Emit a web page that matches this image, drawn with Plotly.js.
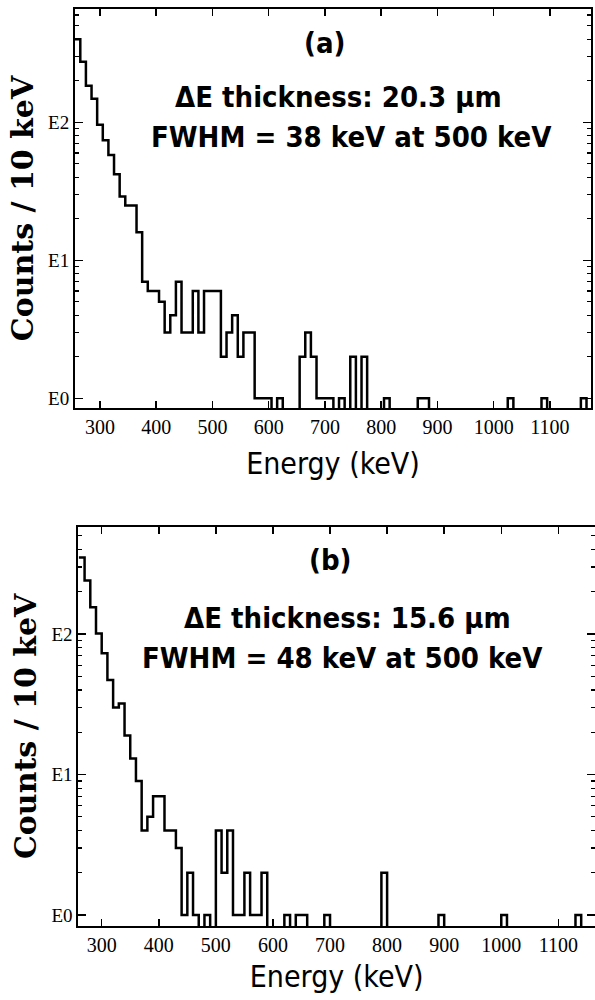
<!DOCTYPE html>
<html><head><meta charset="utf-8">
<script src="https://cdn.plot.ly/plotly-3.0.1.min.js"></script>
<style>html,body{margin:0;padding:0;background:#fff}#chart{width:595px;height:1000px}</style>
</head><body><div id="chart"></div>
<script>
const binWidth = 10;

// Panel (a): bin centres (keV) and counts per 10 keV
const binsA = [260,270,280,290,300,310,320,330,340,350,360,370,380,390,400,410,420,430,440,450,
  460,470,480,490,500,510,520,530,540,550,560,570,580,590,600,610,620,630,640,650,
  660,670,680,690,700,710,720,730,740,750,760,770,780,790,800,810,820,830,840,850,
  860,870,880,890,900,910,920,930,940,950,960,970,980,990,1000,1010,1020,1030,1040,1050,
  1060,1070,1080,1090,1100,1110,1120,1130,1140,1150,1160,1170];
const countsA = [400,275,184,148,96,74,58,42,29,25,25,16,7,6,6,5,3,4,7,3,
  3,6,3,6,6,6,2,3,4,2,3,3,1,1,1,0,1,0,0,0,
  2,3,2,1,1,1,0,1,0,2,0,2,0,0,0,1,0,0,0,0,
  0,1,1,0,0,0,0,0,0,0,0,0,0,0,0,0,0,1,0,0,
  0,0,0,1,0,0,0,0,0,0,1,0];

// Panel (b)
const binsB = [265,275,285,295,305,315,325,335,345,355,365,375,385,395,405,415,425,435,445,455,
  465,475,485,495,505,515,525,535,545,555,565,575,585,595,605,615,625,635,645,655,
  665,675,685,695,705,715,725,735,745,755,765,775,785,795,805,815,825,835,845,855,
  865,875,885,895,905,915,925,935,945,955,965,975,985,995,1005,1015,1025,1035,1045,1055,
  1065,1075,1085,1095,1105,1115,1125,1135,1145,1155,1165];
const countsB = [350,240,155,101,73,47,30,32,19,13,9,4,5,7,7,4,4,3,1,2,
  1,0,1,0,4,2,4,1,1,2,1,1,2,0,0,0,1,0,1,1,
  0,0,0,1,0,0,0,0,0,0,0,0,0,2,0,0,0,0,0,0,
  0,0,0,1,0,0,0,0,0,0,0,0,0,0,1,0,0,0,0,0,
  0,0,0,0,0,0,0,1,0,0,0];

const xTickVals = [300,400,500,600,700,800,900,1000,1100];
const yTickVals = [1,10,100];
const yTickText = ['E0','E1','E2'];
const panelLabels = ['(a)','(b)'];
const thicknessText = ['\u0394E thickness: 20.3 \u03bcm','\u0394E thickness: 15.6 \u03bcm'];
const fwhmText = ['FWHM = 38 keV at 500 keV','FWHM = 48 keV at 500 keV'];

function stepTrace(centers, counts, xa, ya) {
  const floor = 0.1; // empty bins drop below the axis
  const x = centers.map(c => c - binWidth / 2);
  x.push(centers[centers.length - 1] + binWidth / 2);
  const y = counts.map(v => v > 0 ? v : floor);
  y.push(y[y.length - 1]);
  return {type:'scatter', mode:'lines', x:x, y:y, xaxis:xa, yaxis:ya,
    line:{shape:'hv', color:'#000', width:2.5}, hoverinfo:'skip', showlegend:false};
}

const minorVals = [];
[1,10,100].forEach(d => { for (let k = 2; k <= 9; k++) minorVals.push(k * d); });

const serif = 'Liberation Serif, Times New Roman, serif';
const sansC = 'DejaVu Sans Condensed, DejaVu Sans, sans-serif';

function xAxis(domain, range, standoff) {
  return {domain:domain, range:range, tickmode:'array', tickvals:xTickVals,
    ticks:'inside', ticklen:7, tickwidth:1.5, tickcolor:'#000',
    showline:true, linecolor:'#000', linewidth:2, mirror:'ticks',
    showgrid:false, zeroline:false, automargin:false,
    tickfont:{family:serif, size:20, color:'#000'},
    title:{text:'Energy (keV)', font:{family:sansC, size:30, color:'#000'}, standoff:standoff}};
}
function yAxis(domain, range) {
  return {domain:domain, type:'log', range:range, tickmode:'array', tickvals:yTickVals, ticktext:yTickText,
    ticks:'inside', ticklen:8, tickwidth:1.5, tickcolor:'#000',
    minor:{tickmode:'array', tickvals:minorVals, ticks:'inside', ticklen:4, tickwidth:1.2, tickcolor:'#000', showgrid:false},
    showline:true, linecolor:'#000', linewidth:2, mirror:'ticks',
    showgrid:false, zeroline:false, automargin:false,
    tickfont:{family:serif, size:19, color:'#000'},
    title:{text:'Counts / 10 keV', font:{family:'DejaVu Serif, serif', size:30, color:'#000', weight:'bold'}, standoff:6}};
}

const W = 595, H = 1000;
function ann(text, px, py, size) {
  return {text:text, xref:'paper', yref:'paper', x:px / W, y:1 - py / H, xanchor:'center', yanchor:'middle',
    showarrow:false, font:{family:sansC, size:size, color:'#000', weight:'bold'}};
}

const layout = {
  width:W, height:H, margin:{l:0, r:0, t:0, b:0},
  paper_bgcolor:'#fff', plot_bgcolor:'#fff', showlegend:false,
  xaxis:xAxis([75 / W, 591 / W], [255.6, 1173], 16),
  yaxis:yAxis([1 - 408 / H, 1 - 9 / H], [-0.070, 2.821]),
  xaxis2:xAxis([78.3 / W, 1], [259, 1164.2], 11),
  yaxis2:yAxis([1 - 926 / H, 1 - 526.7 / H], [-0.078, 2.764]),
  annotations:[
    ann(panelLabels[0], 325, 43, 29),
    ann(thicknessText[0], 338, 97, 29),
    ann(fwhmText[0], 351, 137, 29),
    ann(panelLabels[1], 330, 560, 29),
    ann(thicknessText[1], 347, 618, 29),
    ann(fwhmText[1], 342, 658, 29)
  ]
};
layout.yaxis2.anchor = 'x2';
layout.xaxis2.anchor = 'y2';

Plotly.newPlot('chart', [stepTrace(binsA, countsA, 'x', 'y'), stepTrace(binsB, countsB, 'x2', 'y2')], layout, {staticPlot:true});
</script></body></html>
